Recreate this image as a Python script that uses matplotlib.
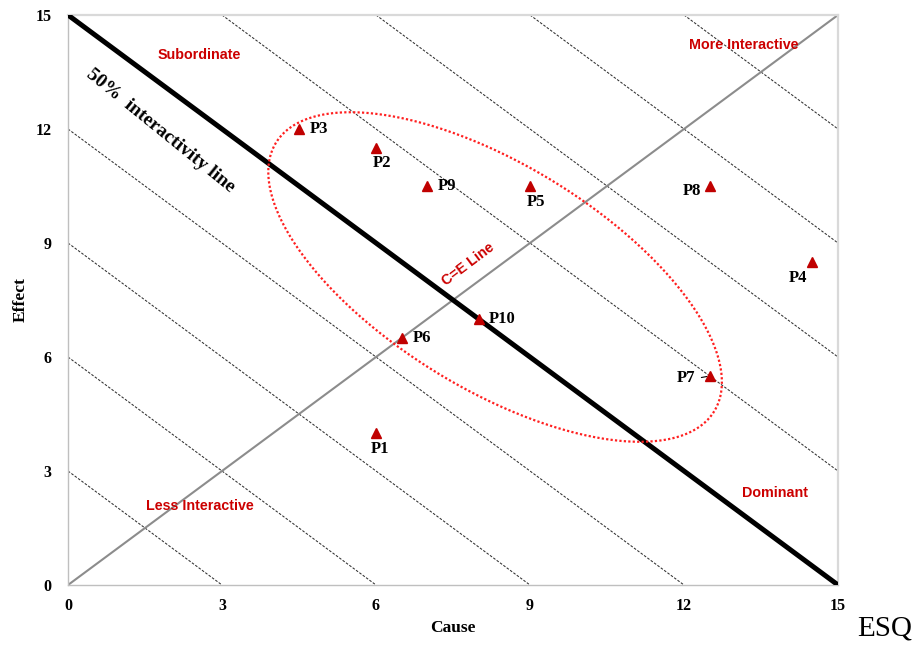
import numpy as np
import matplotlib
matplotlib.use("Agg")
import matplotlib.pyplot as plt

plt.rcParams["font.family"] = ["Liberation Serif", "DejaVu Serif"]

# 数据
points = ["P1", "P2", "P3", "P4", "P5", "P6", "P7", "P8", "P9", "P10"]
cause = [6, 6, 4.5, 14.5, 9, 6.5, 12.5, 12.5, 7, 8]
effect = [4, 11.5, 12, 8.5, 10.5, 6.5, 5.5, 10.5, 10.5, 7]
# 标签相对位置（像素）和对齐方式
label_dx = [4, 6, 11, -14, 6, 11, -24, -18, 10, 10]
label_dy = [-16, -15, 0, -16, -16, 0, -2, -5, 0, 0]
label_ha = ["center", "center", "left", "center", "center", "left", "center", "center", "left", "left"]

ticks = [0, 3, 6, 9, 12, 15]
iso_levels = [3, 6, 9, 12, 18, 21, 24, 27]   # Cause + Effect = const
half_level = 15

# 椭圆参数（像素空间）
ell_center = (8.32, 8.105)
ell_a, ell_b, ell_angle = 257, 112, 31.5

W, H = 919, 647
fig = plt.figure(figsize=(W / 100, H / 100), dpi=100)
left, right, top, bottom = 68, 838, 15, 585
ax = fig.add_axes([left / W, (H - bottom) / H, (right - left) / W, (bottom - top) / H])
ax.set_xlim(0, 15)
ax.set_ylim(0, 15)

# 等值虚线
for c in iso_levels:
    xs = np.array([max(0, c - 15), min(15, c)])
    ax.plot(xs, c - xs, color="#303030", lw=0.75, ls=(0, (2.5, 1.5)), zorder=1)

# C=E 线
ax.plot([0, 15], [0, 15], color="#8c8c8c", lw=1.5, zorder=2)
# 50% 交互线
ax.plot([0, half_level], [half_level, 0], color="black", lw=3.6, zorder=3)

# 椭圆
sx = (right - left) / 15
sy = (bottom - top) / 15
t = np.linspace(0, 2 * np.pi, 400)
th = np.deg2rad(ell_angle)
px = ell_a * np.cos(t) * np.cos(th) - ell_b * np.sin(t) * np.sin(th)
py = ell_a * np.cos(t) * np.sin(th) + ell_b * np.sin(t) * np.cos(th)
ax.plot(ell_center[0] + px / sx, ell_center[1] - py / sy, color="#ff2020",
        lw=1.6, ls=(0, (1, 1)), zorder=4)

# 数据点
ax.plot(cause, effect, ls="none", marker="^", ms=6.5, color="#c00000", zorder=5)
for name, x, y, dx, dy, ha in zip(points, cause, effect, label_dx, label_dy, label_ha):
    ax.annotate(name, (x, y), xytext=(dx, dy), textcoords="offset pixels",
                ha=ha, va="center", fontsize=12, fontweight="bold", zorder=6)
# P7 引线
i7 = points.index("P7")
ax.annotate("", (cause[i7], effect[i7]), xytext=(-11, -2), textcoords="offset pixels",
            arrowprops=dict(arrowstyle="-", color="black", lw=0.8))

# 区域文字
red = "#cc0000"
sans = dict(family=["Liberation Sans", "DejaVu Sans"], fontweight="bold", color=red, fontsize=10.3)
ax.text(2.55, 13.95, "Subordinate", ha="center", va="center", **sans)
ax.text(13.17, 14.2, "More Interactive", ha="center", va="center", **sans)
ax.text(2.57, 2.08, "Less Interactive", ha="center", va="center", **sans)
ax.text(13.77, 2.42, "Dominant", ha="center", va="center", **sans)
ax.text(7.8, 8.45, "C=E Line", ha="center", va="center", rotation=37, **sans)

ax.text(1.8, 11.95, "50%  interactivity line", ha="center", va="center", rotation=-39,
        fontsize=14, fontweight="bold", rotation_mode="anchor")

# 坐标轴
ax.set_xticks(ticks)
ax.set_yticks(ticks)
ax.tick_params(length=0, labelsize=11.5)
ax.tick_params(axis="x", pad=9)
ax.tick_params(axis="y", pad=12)
for lab in ax.get_xticklabels() + ax.get_yticklabels():
    lab.set_fontweight("bold")
for side in ["left", "bottom"]:
    ax.spines[side].set_color("#bfbfbf")
    ax.spines[side].set_linewidth(1.0)
for side in ["top", "right"]:
    ax.spines[side].set_color("#d9d9d9")
    ax.spines[side].set_linewidth(1.6)

ax.set_xlabel("Cause", fontsize=12.5, fontweight="bold", labelpad=5)
ax.set_ylabel("Effect", fontsize=12.5, fontweight="bold", labelpad=5)

fig.text(885 / W, 1 - 628 / H, "ESQ", ha="center", va="center", fontsize=21)

fig.savefig("out.png", dpi=100)
